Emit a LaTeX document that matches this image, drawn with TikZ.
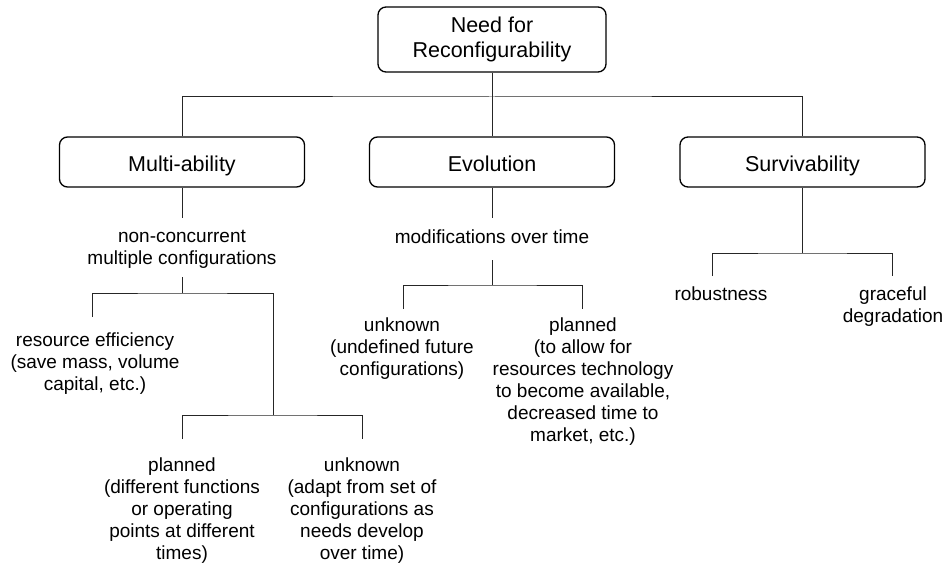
\documentclass[tikz,border=0pt]{standalone}
\usepackage{fontspec}
\setmainfont{Liberation Sans}
\begin{document}
\begin{tikzpicture}[x=1pt,y=-1pt,
  box/.style={draw=black, line width=1.3pt, rounded corners=8pt, inner sep=0pt,
    align=center, minimum width=245pt, minimum height=50pt,
    font=\fontsize{21.5}{25}\selectfont},
  onebox/.style={box, text height=19.4pt, text depth=0pt},
  lbl/.style={inner sep=0pt, align=center, anchor=north,
    font=\fontsize{19}{22}\selectfont},
  conn/.style={draw=black!85, line width=1pt}]
\useasboundingbox (0,0) rectangle (946,567);

% boxes
\node[box, minimum width=228pt, minimum height=65pt] (top) at (492,39.5) {Need for\\Reconfigurability};
\node[onebox] (multi) at (182,162) {Multi-ability};
\node[onebox] (evo) at (492,162) {Evolution};
\node[onebox] (surv) at (802.5,162) {Survivability};

% labels
\node[lbl] (nc) at (182,230.5) {non-concurrent\\multiple configurations};
\node[lbl] (res) at (95,332.5) {resource efficiency\\(save mass, volume\\capital, etc.)};
\node[lbl] (mp) at (182,457.5) {planned\\(different functions\\or operating\\points at different\\times)};
\node[lbl] (mu) at (362,457.5) {unknown\\(adapt from set of\\configurations as\\needs develop\\over time)};
\node[lbl] (mod) at (492,229.5) {modifications over time};
\node[lbl] (eu) at (402,317.5) {unknown\\(undefined future\\configurations)};
\node[lbl] (ep) at (583,317.5) {planned\\(to allow for\\resources technology\\to become available,\\decreased time to\\market, etc.)};
\node[lbl] (rob) at (721,286.5) {robustness};
\node[lbl] (gra) at (893,286.5) {graceful\\degradation};

% coordinates
\coordinate (j0) at (492,97);
\coordinate (m1) at (182,218);
\coordinate (m2) at (182,277);
\coordinate (m3) at (182,293);
\coordinate (ml) at (92,317);
\coordinate (mr) at (273,415);
\coordinate (mpl) at (182,439);
\coordinate (mul) at (362,439);
\coordinate (e1) at (492,218);
\coordinate (e2) at (492,260);
\coordinate (e3) at (492,285);
\coordinate (el) at (403,309);
\coordinate (er) at (582,309);
\coordinate (s1) at (802.5,253);
\coordinate (sl) at (712,276);
\coordinate (sr) at (892,276);

% connectors
\draw[conn] (top.south) -- (evo.north);
\draw[conn] (multi.north) |- (j0) -| (surv.north);
\draw[conn] (multi.south) -- (m1);
\draw[conn] (m2) -- (m3);
\draw[conn] (ml) |- (m3) -| (mr);
\draw[conn] (mpl) |- (mr) -| (mul);
\draw[conn] (evo.south) -- (e1);
\draw[conn] (e2) -- (e3);
\draw[conn] (el) |- (e3) -| (er);
\draw[conn] (surv.south) -- (s1);
\draw[conn] (sl) |- (s1) -| (sr);
\end{tikzpicture}
\end{document}
